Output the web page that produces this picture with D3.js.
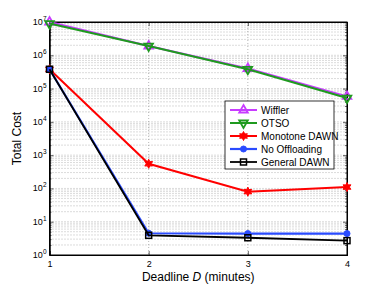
<!DOCTYPE html>
<html><head><meta charset="utf-8">
<script src="https://cdn.jsdelivr.net/npm/d3@7"></script>
<style>body{margin:0;background:#fff;}svg{display:block;}text{font-family:"Liberation Sans",Arial,sans-serif;}</style>
</head><body>
<script>
const deadlines = [1, 2, 3, 4];
const wiffler = [1.0e7, 1.9e6, 4.0e5, 5.8e4];
const otso = [9.0e6, 1.9e6, 3.8e5, 5.2e4];
const monotone = [3.8e5, 550, 80, 110];
const noOffload = [3.8e5, 4.5, 4.4, 4.4];
const generalDawn = [3.8e5, 3.9, 3.3, 2.7];
const yTickExps = [0, 1, 2, 3, 4, 5, 6, 7];
const seriesNames = ["Wiffler", "OTSO", "Monotone DAWN", "No Offloading", "General DAWN"];

const W = 382, H = 287;
const m = {l: 49.5, r: 347, t: 22, b: 255};
const svg = d3.select("body").append("svg").attr("width", W).attr("height", H);
const x = d3.scaleLinear().domain([1, 4]).range([m.l, m.r]);
const y = d3.scaleLog().domain([1, 1e7]).range([m.b, m.t]);

const g = svg.append("g");
const minor = [];
for (let e = 0; e < 7; e++) for (let k = 1; k <= 9; k++) minor.push(k * Math.pow(10, e));
minor.push(1e7);
const majors = yTickExps.map(e => Math.pow(10, e));
const minorOnly = minor.filter(v => !majors.includes(v));
g.selectAll(".hg").data(minor.filter(v => v > 1 && v < 1e7)).enter().append("line")
  .attr("x1", m.l).attr("x2", m.r).attr("y1", d => y(d)).attr("y2", d => y(d))
  .attr("stroke", "#888").attr("stroke-width", 0.6).attr("stroke-dasharray", "1,2");
g.selectAll(".vg").data([2, 3]).enter().append("line")
  .attr("x1", d => x(d)).attr("x2", d => x(d)).attr("y1", m.t).attr("y2", m.b)
  .attr("stroke", "#888").attr("stroke-width", 0.6).attr("stroke-dasharray", "1,2");

const xAxis = d3.axisBottom(x).tickValues(deadlines).tickFormat(d3.format("d")).tickSize(-4).tickPadding(6);
const xg = svg.append("g").attr("transform", `translate(0,${m.b})`).call(xAxis);
svg.append("g").attr("transform", `translate(${m.l},0)`).call(d3.axisLeft(y).tickValues(majors).tickFormat("").tickSize(-4));
svg.append("g").attr("transform", `translate(${m.l},0)`).call(d3.axisLeft(y).tickValues(minorOnly).tickFormat("").tickSize(-2));
svg.append("g").attr("transform", `translate(${m.r},0)`).call(d3.axisRight(y).tickValues(majors).tickFormat("").tickSize(-4));
svg.append("g").attr("transform", `translate(${m.r},0)`).call(d3.axisRight(y).tickValues(minorOnly).tickFormat("").tickSize(-2));
svg.append("g").attr("transform", `translate(0,${m.t})`).call(d3.axisTop(x).tickValues(deadlines).tickFormat("").tickSize(-4));
svg.selectAll(".domain").attr("stroke", "#000");
svg.selectAll(".tick line").attr("stroke", "#000").attr("stroke-width", 0.6);
xg.selectAll("text").attr("font-size", 9).attr("fill", "#000");
svg.append("rect").attr("x", m.l).attr("y", m.t).attr("width", m.r - m.l).attr("height", m.b - m.t)
  .attr("fill", "none").attr("stroke", "#000").attr("stroke-width", 1);

yTickExps.forEach(e => {
  const t = svg.append("text").attr("x", m.l - 3).attr("y", y(Math.pow(10, e)) + 3)
    .attr("text-anchor", "end").attr("font-size", 9).attr("fill", "#000");
  t.append("tspan").text("10");
  t.append("tspan").attr("dy", -4).attr("font-size", 6.5).text(e);
});

svg.append("text").attr("transform", `translate(21,${(m.t + m.b) / 2}) rotate(-90)`)
  .attr("text-anchor", "middle").attr("font-size", 12).text("Total Cost");
const xt = svg.append("text").attr("x", (m.l + m.r) / 2).attr("y", 281).attr("text-anchor", "middle").attr("font-size", 12);
xt.append("tspan").text("Deadline ");
xt.append("tspan").attr("font-style", "italic").text("D");
xt.append("tspan").text(" (minutes)");

const series = [
  {name: seriesNames[0], vals: wiffler, color: "#c83cff", marker: "triUp", w: 2},
  {name: seriesNames[1], vals: otso, color: "#1f9a1f", marker: "triDown", w: 2},
  {name: seriesNames[2], vals: monotone, color: "#ff0000", marker: "star", w: 2},
  {name: seriesNames[3], vals: noOffload, color: "#2a4bff", marker: "circle", w: 2.2},
  {name: seriesNames[4], vals: generalDawn, color: "#000000", marker: "square", w: 1.8}
];
const line = d3.line().x((d, i) => x(deadlines[i])).y(d => y(d));

function drawMarker(sel, type, color, cx, cy) {
  if (type === "triUp") {
    sel.append("path").attr("d", d3.symbol(d3.symbolTriangle, 32)()).attr("transform", `translate(${cx},${cy})`)
      .attr("fill", "none").attr("stroke", color).attr("stroke-width", 1.8);
  } else if (type === "triDown") {
    sel.append("path").attr("d", d3.symbol(d3.symbolTriangle, 32)()).attr("transform", `translate(${cx},${cy}) rotate(180)`)
      .attr("fill", "none").attr("stroke", color).attr("stroke-width", 1.8);
  } else if (type === "star") {
    const pts = [];
    for (let k = 0; k < 12; k++) {
      const r = k % 2 === 0 ? 4.5 : 2.4;
      const a = -Math.PI / 2 + k * Math.PI / 6;
      pts.push([cx + r * Math.cos(a), cy + r * Math.sin(a)]);
    }
    sel.append("path").attr("d", "M" + pts.join("L") + "Z").attr("fill", color).attr("stroke", color).attr("stroke-width", 1);
  } else if (type === "circle") {
    sel.append("circle").attr("cx", cx).attr("cy", cy).attr("r", 3).attr("fill", color).attr("stroke", color);
  } else if (type === "square") {
    sel.append("rect").attr("x", cx - 3).attr("y", cy - 3).attr("width", 6).attr("height", 6)
      .attr("fill", "none").attr("stroke", color).attr("stroke-width", 1.5);
  }
}

series.forEach(s => {
  const sg = svg.append("g");
  sg.append("path").attr("d", line(s.vals)).attr("fill", "none").attr("stroke", s.color).attr("stroke-width", s.w);
  s.vals.forEach((v, i) => drawMarker(sg, s.marker, s.color, x(deadlines[i]), y(v)));
});

const lg = svg.append("g");
lg.append("rect").attr("x", 225).attr("y", 101).attr("width", 109).attr("height", 68)
  .attr("fill", "#fff").attr("stroke", "#000").attr("stroke-width", 0.8);
series.forEach((s, i) => {
  const yy = 110 + i * 13;
  lg.append("line").attr("x1", 230).attr("x2", 257).attr("y1", yy).attr("y2", yy).attr("stroke", s.color).attr("stroke-width", s.w);
  drawMarker(lg, s.marker, s.color, 243.5, yy);
  lg.append("text").attr("x", 261).attr("y", yy + 3.5).attr("font-size", 10).text(s.name);
});
</script>
</body></html>
